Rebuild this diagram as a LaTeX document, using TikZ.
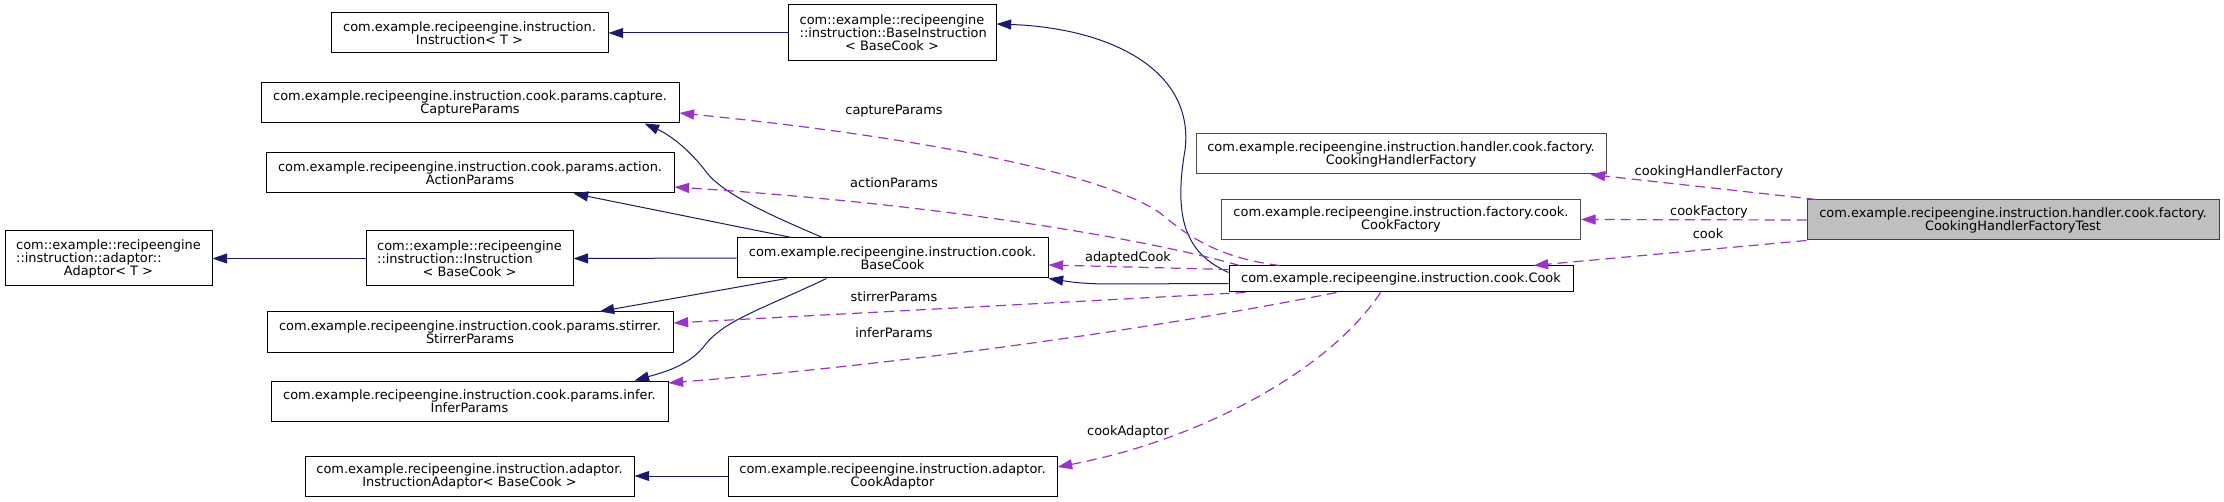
\documentclass[tikz,border=0pt]{standalone}
\usepackage{fontspec}
\setmainfont{DejaVu Sans}
\usetikzlibrary{arrows.meta,calc}
\definecolor{inhc}{HTML}{191970}
\definecolor{usec}{HTML}{9A32CD}
\definecolor{rootfill}{HTML}{BFBFBF}
\definecolor{rootdraw}{HTML}{404040}
\definecolor{greydraw}{HTML}{4A4A4A}
\newcommand{\lft}[2]{\rlap{#2}\phantom{#1}}
\begin{document}
\begin{tikzpicture}[x=0.75pt,y=-0.75pt,
  box/.style={draw=black,line width=0.75pt,fill=white,inner sep=0pt,align=center,
    font=\fontsize{9.7pt}{9.8pt}\selectfont},
  gbox/.style={box,draw=greydraw},
  root/.style={box,draw=rootdraw,fill=rootfill},
  lbl/.style={inner sep=0pt,font=\fontsize{9.7pt}{10pt}\selectfont},
  inh/.style={draw=inhc,line width=0.75pt,-{Triangle[length=11pt,width=7.5pt]}},
  use/.style={draw=usec,line width=0.9pt,dash pattern=on 7.5pt off 4.5pt,
    -{Triangle[length=11pt,width=7.5pt]}}]
\useasboundingbox (0,0) rectangle (2224,502);

% nodes
\node[box,minimum width=207.75pt,minimum height=30pt] (insT) at (469.5,33)
  {com.example.recipeengine.instruction.\\Instruction< T >};
\node[box,minimum width=156pt,minimum height=42pt] (baseIns) at (892,33)
  {com::example::recipeengine\\\lft{com::example::recipeengine}{::instruction::BaseInstruction}\\< BaseCook >};
\node[box,minimum width=313.5pt,minimum height=30pt] (capture) at (470,103)
  {com.example.recipeengine.instruction.cook.params.capture.\\CaptureParams};
\node[box,minimum width=306pt,minimum height=30pt] (action) at (470,173)
  {com.example.recipeengine.instruction.cook.params.action.\\ActionParams};
\node[box,minimum width=155.25pt,minimum height=41.25pt] (adaptor) at (108.5,258.5)
  {com::example::recipeengine\\\lft{com::example::recipeengine}{::instruction::adaptor::}\\Adaptor< T >};
\node[box,minimum width=155.25pt,minimum height=41.25pt] (insBC) at (469.5,258.5)
  {com::example::recipeengine\\\lft{com::example::recipeengine}{::instruction::Instruction}\\< BaseCook >};
\node[box,minimum width=233.25pt,minimum height=30pt] (baseCook) at (892.5,258)
  {com.example.recipeengine.instruction.cook.\\BaseCook};
\node[box,minimum width=304.5pt,minimum height=30pt] (stirrer) at (470,332)
  {com.example.recipeengine.instruction.cook.params.stirrer.\\StirrerParams};
\node[box,minimum width=297.75pt,minimum height=30pt] (infer) at (469.5,401)
  {com.example.recipeengine.instruction.cook.params.infer.\\InferParams};
\node[box,minimum width=246.75pt,minimum height=30pt] (insAd) at (469.5,476)
  {com.example.recipeengine.instruction.adaptor.\\InstructionAdaptor< BaseCook >};
\node[box,minimum width=246.75pt,minimum height=30pt] (cookAd) at (892.5,476)
  {com.example.recipeengine.instruction.adaptor.\\CookAdaptor};
\node[gbox,minimum width=307.5pt,minimum height=30pt] (chf) at (1401,154)
  {com.example.recipeengine.instruction.handler.cook.factory.\\CookingHandlerFactory};
\node[gbox,minimum width=269.25pt,minimum height=30pt] (cf) at (1401,219.5)
  {com.example.recipeengine.instruction.factory.cook.\\CookFactory};
\node[box,minimum width=258pt,minimum height=19.5pt] (cook) at (1401,279)
  {com.example.recipeengine.instruction.cook.Cook};
\node[root,minimum width=309pt,minimum height=30pt] (test) at (2013,220)
  {com.example.recipeengine.instruction.handler.cook.factory.\\CookingHandlerFactoryTest};

% inheritance edges
\draw[inh] (baseIns.west) -- (insT.east);
\draw[inh] ($(cook.north west)+(0,7)$) .. controls (1190,255) and (1172,225) .. (1185,150)
  .. controls (1195,70) and (1110,28) .. ($(baseIns.east)+(0,-9)$);
\draw[inh] ($(cook.north west)+(0,18)$) -- (1110,284) .. controls (1080,284) and (1065,281) .. (baseCook.south east);
\draw[inh] (baseCook.west) -- (insBC.east);
\draw[inh] (insBC.west) -- (adaptor.east);
\draw[inh] ($(baseCook.north west)+(86,0)$) .. controls (770,215) and (725,195) .. (707,173)
  .. controls (690,150) and (670,135) .. ($(capture.south west)+(384,0)$);
\draw[inh] ($(baseCook.north west)+(55,0)$) -- ($(action.south west)+(308,0)$);
\draw[inh] ($(baseCook.south west)+(50,0)$) -- ($(stirrer.north west)+(333,0)$);
\draw[inh] ($(baseCook.south west)+(90,0)$) .. controls (760,310) and (725,320) .. (705,345)
  .. controls (690,365) and (665,372) .. ($(infer.north west)+(364,0)$);
\draw[inh] (cookAd.west) -- (insAd.east);

% usage edges
\draw[use] ($(test.north west)+(10,0)$) -- ($(chf.south east)+(-16,0)$);
\draw[use] (test.west) -- (cf.east);
\draw[use] (test.south west) -- ($(cook.north west)+(305,0)$);
\draw[use] ($(cook.north west)+(0,4)$) -- ($(baseCook.east)+(0,7)$);
\draw[use] ($(cook.north west)+(51,0)$) .. controls (1220,258) and (1190,238) .. (1160,213)
  .. controls (1110,178) and (950,140) .. ($(capture.east)+(0,10)$);
\draw[use] ($(cook.north west)+(11,0)$) .. controls (1150,240) and (950,205) .. ($(action.east)+(0,14)$);
\draw[use] ($(cook.south west)+(17,0)$) -- ($(stirrer.east)+(0,-9)$);
\draw[use] ($(cook.south west)+(108,0)$) .. controls (1200,320) and (950,360) .. ($(infer.east)+(0,-18)$);
\draw[use] ($(cook.south west)+(152,0)$) .. controls (1330,370) and (1200,440) .. ($(cookAd.east)+(0,-9)$);

% labels
\node[lbl] (lcap) at (894,111) {captureParams};
\node[lbl] (lact) at (894,183) {actionParams};
\node[lbl] (ladc) at (1128,258) {adaptedCook};
\node[lbl] (lsti) at (894,297) {stirrerParams};
\node[lbl] (linf) at (894,333) {inferParams};
\node[lbl] (lcad) at (1128,432) {cookAdaptor};
\node[lbl] (lchf) at (1709,172) {cookingHandlerFactory};
\node[lbl] (lcf) at (1709,212) {cookFactory};
\node[lbl] (lck) at (1708,234) {cook};
\end{tikzpicture}
\end{document}
